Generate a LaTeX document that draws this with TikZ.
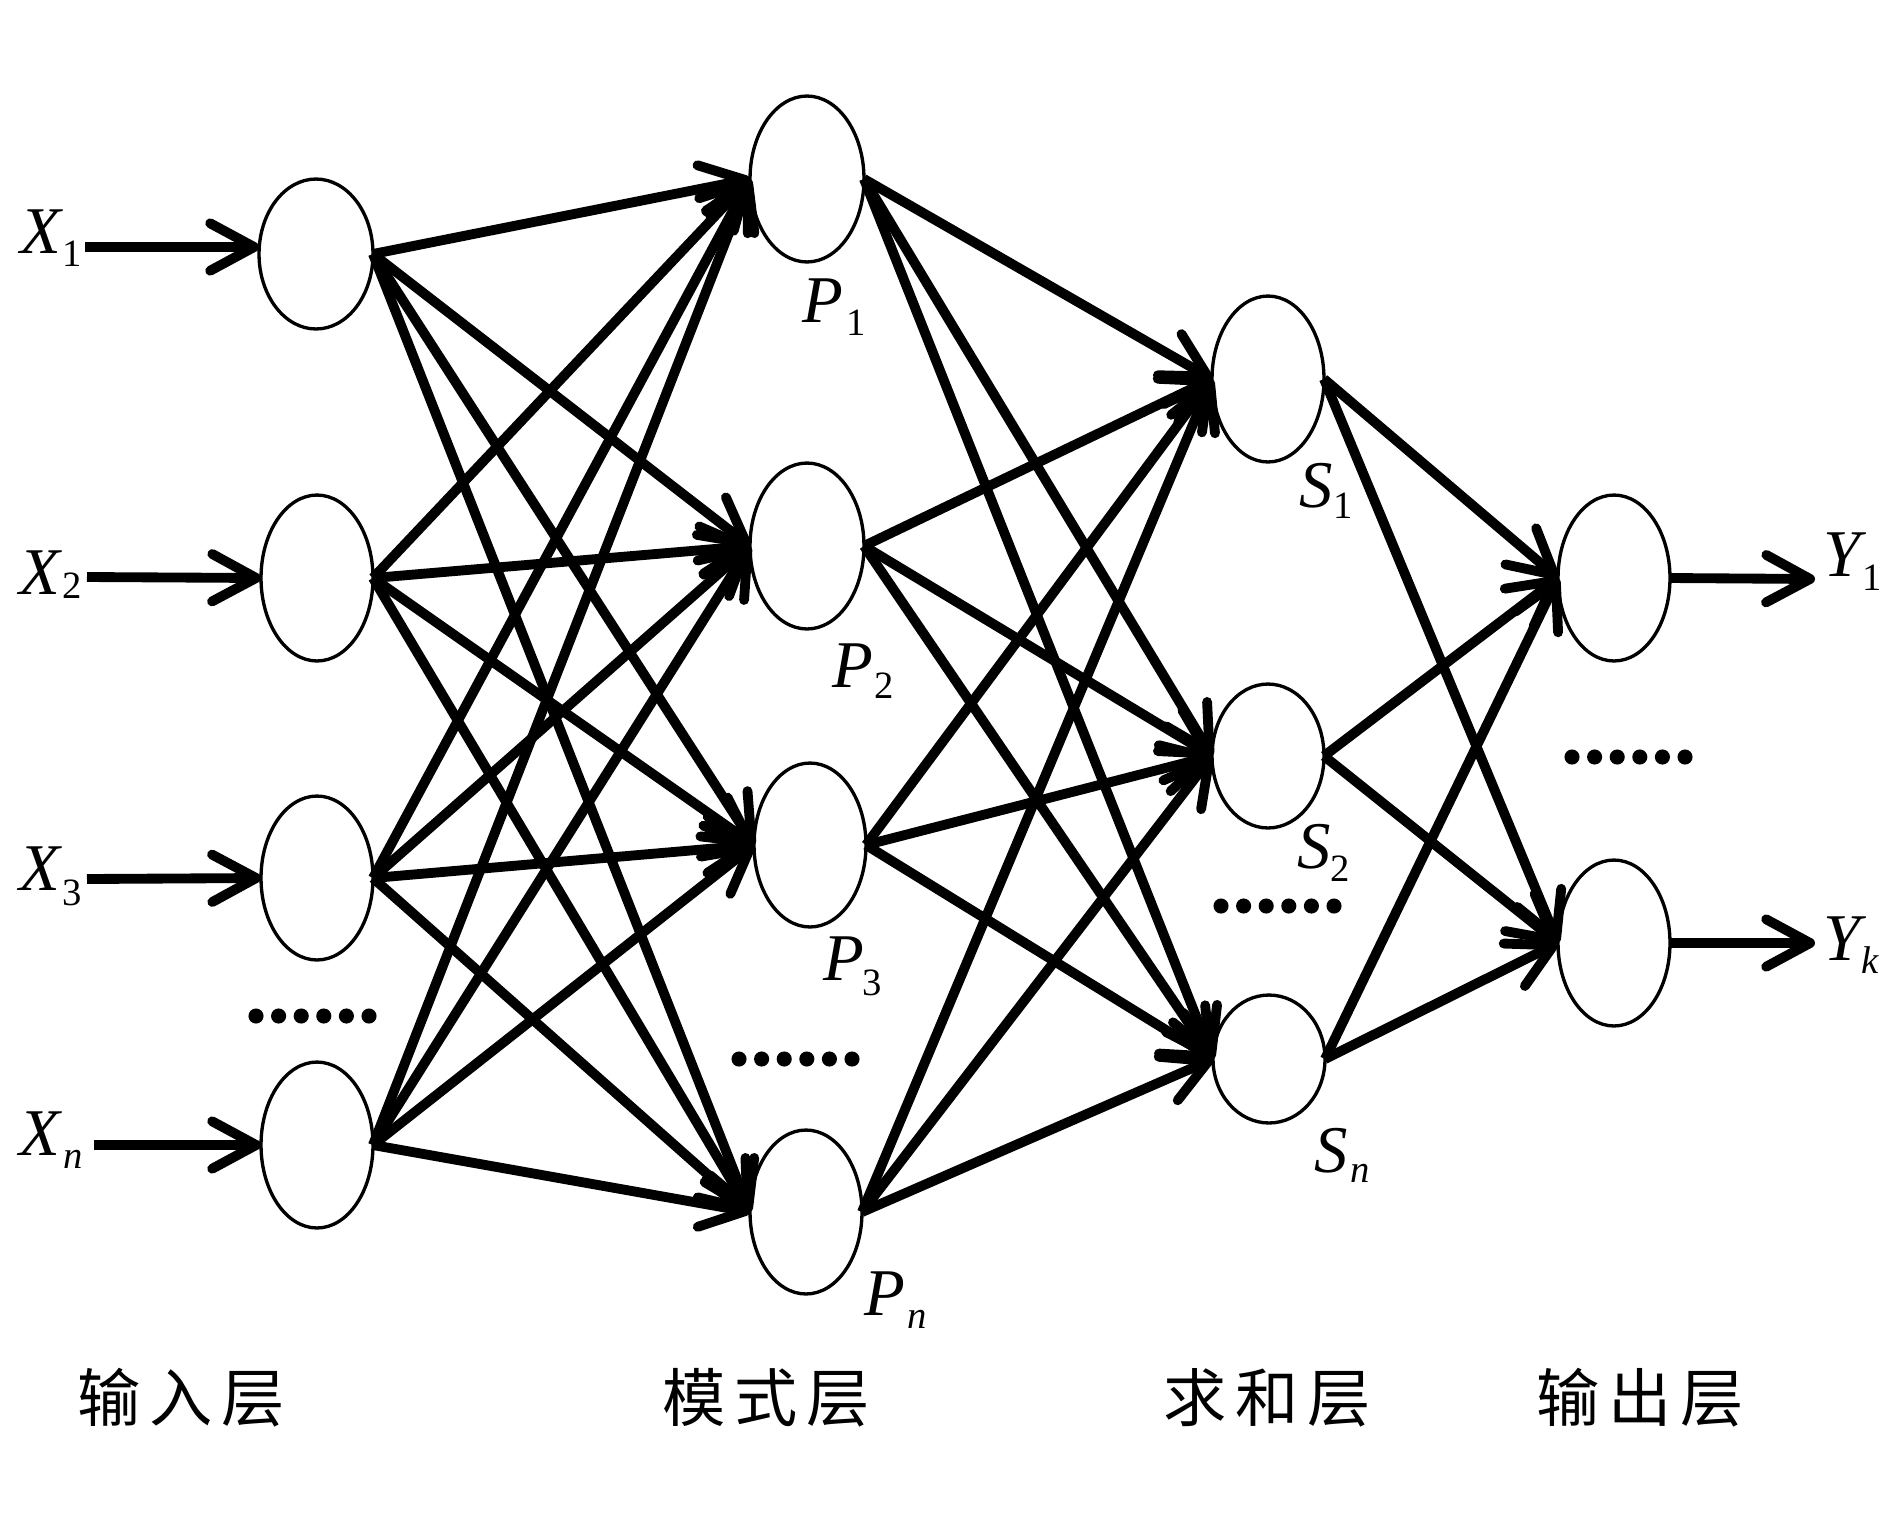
\documentclass[tikz,border=0pt]{standalone}
\usepackage{fontspec}
\setmainfont{Liberation Serif}
\newfontfamily\cjkfont{Noto Sans CJK SC}
\usetikzlibrary{shapes.geometric,arrows.meta}
\begin{document}
\begin{tikzpicture}[x=0.02cm,y=-0.02cm,
  neuron/.style 2 args={draw, ellipse, line width=1.9pt, inner sep=0pt, outer sep=0pt,
    minimum width=#1*0.04cm, minimum height=#2*0.04cm},
  edge/.style={line width=5.6pt, -{Straight Barb[length=25pt,width=27pt,round]}},
  lab/.style={anchor=base, inner sep=0pt, font=\fontsize{38}{38}\selectfont\itshape},
  sub/.style={anchor=base, inner sep=0pt, font=\fontsize{22}{22}\selectfont},
  subit/.style={anchor=base, inner sep=0pt, font=\fontsize{22}{22}\selectfont\itshape},
  layer/.style={inner sep=0pt, font=\fontsize{36}{36}\selectfont\cjkfont}]
\useasboundingbox (0,0) rectangle (1890,1512);
\fill[white] (0,0) rectangle (1890,1512);

% input layer
\node[neuron={57}{75}] (I1) at (316,254) {};
\node[neuron={56}{83}] (I2) at (317,578) {};
\node[neuron={56}{82}] (I3) at (317,878) {};
\node[neuron={56}{83}] (In) at (317,1145) {};
% pattern layer
\node[neuron={57}{83}] (P1) at (807,179) {};
\node[neuron={57}{83}] (P2) at (807,546) {};
\node[neuron={56}{82}] (P3) at (810,845) {};
\node[neuron={56}{82}] (Pn) at (806,1212) {};
% summation layer
\node[neuron={56}{83}] (S1) at (1268,379) {};
\node[neuron={56}{72}] (S2) at (1268,756) {};
\node[neuron={56}{64}] (Sn) at (1269,1059) {};
% output layer
\node[neuron={56}{83}] (O1) at (1614,578) {};
\node[neuron={56}{83}] (Ok) at (1614,943) {};

% input arrows
\coordinate (x1s) at (85,247);
\coordinate (x2s) at (87,577);
\coordinate (x3s) at (87,879);
\coordinate (xns) at (94,1145);
\draw[edge] (x1s) -- (x1s -| I1.west);
\draw[edge] (x2s) -- (I2.west);
\draw[edge] (x3s) -- (I3.west);
\draw[edge] (xns) -- (In.west);

% input -> pattern
\foreach \a in {I1,I2,I3,In}
  \foreach \b in {P1,P2,P3,Pn}
    \draw[edge] (\a.east) -- (\b.west);
% pattern -> summation
\foreach \a in {P1,P2,P3,Pn}
  \foreach \b in {S1,S2,Sn}
    \draw[edge] (\a.east) -- (\b.west);
% summation -> output
\foreach \a in {S1,S2,Sn}
  \foreach \b in {O1,Ok}
    \draw[edge] (\a.east) -- (\b.west);

% output arrows
\coordinate (y1e) at (1815,579);
\coordinate (yke) at (1815,943);
\draw[edge] (O1.east) -- (y1e);
\draw[edge] (Ok.east) -- (yke);

% labels
\node[lab] (X1l) at (41,253) {X};  \node[sub] (X1s) at (72,266) {1};
\node[lab] (X2l) at (40,594) {X};  \node[sub] (X2s) at (72,598) {2};
\node[lab] (X3l) at (40,890) {X};  \node[sub] (X3s) at (72,905) {3};
\node[lab] (Xnl) at (40,1155) {X}; \node[subit] (Xns) at (73,1168) {n};
\node[lab] (Y1l) at (1842,576) {Y}; \node[sub] (Y1s) at (1872,590) {1};
\node[lab] (Ykl) at (1842,960) {Y}; \node[subit] (Yks) at (1870,973) {k};
\node[lab] (P1l) at (823,322) {P};  \node[sub] (P1s) at (856,335) {1};
\node[lab] (P2l) at (853,687) {P};  \node[sub] (P2s) at (884,698) {2};
\node[lab] (P3l) at (844,980) {P};  \node[sub] (P3s) at (872,995) {3};
\node[lab] (Pnl) at (885,1315) {P}; \node[subit] (Pns) at (917,1328) {n};
\node[lab] (S1l) at (1316,507) {S}; \node[sub] (S1s) at (1343,518) {1};
\node[lab] (S2l) at (1314,868) {S}; \node[sub] (S2s) at (1340,881) {2};
\node[lab] (Snl) at (1331,1172) {S}; \node[subit] (Sns) at (1360,1182) {n};

% dots
\foreach \x/\y in {256/1016, 739/1059, 1221/906, 1572/757}
  \foreach \i in {0,...,5}
    \fill (\x+\i*22.6,\y) circle[radius=4.3pt];

% layer titles
\node[layer] (L1) at (181,1398) {输\hspace{5pt}入\hspace{5pt}层};
\node[layer] (L2) at (766,1398) {模\hspace{5pt}式\hspace{5pt}层};
\node[layer] (L3) at (1267,1398) {求\hspace{5pt}和\hspace{5pt}层};
\node[layer] (L4) at (1640,1398) {输\hspace{5pt}出\hspace{5pt}层};
\end{tikzpicture}
\end{document}
